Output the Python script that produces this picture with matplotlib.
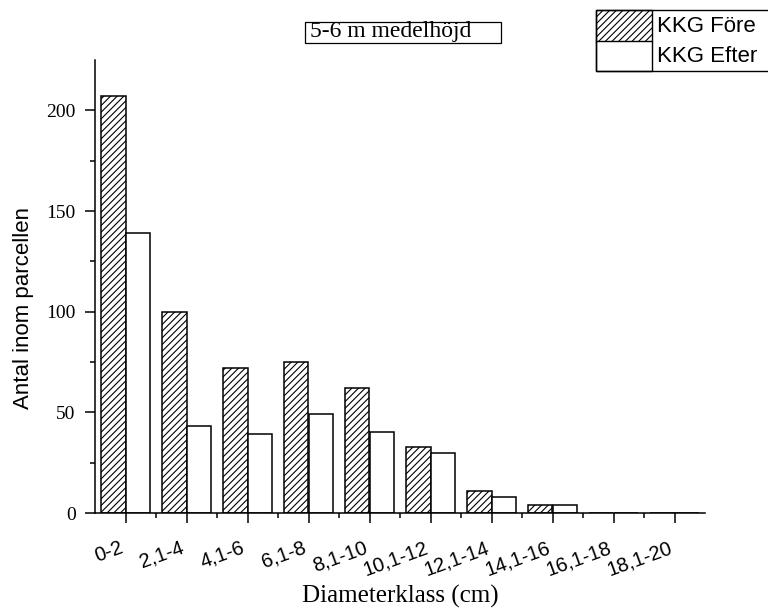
import numpy as np
import matplotlib.pyplot as plt
from matplotlib.patches import Rectangle

# data
klasser = ['0-2', '2,1-4', '4,1-6', '6,1-8', '8,1-10', '10,1-12',
           '12,1-14', '14,1-16', '16,1-18', '18,1-20']
kkg_fore = [207, 100, 72, 75, 62, 33, 11, 4, 0, 0]
kkg_efter = [139, 43, 39, 49, 40, 30, 8, 4, 0, 0]

W, H = 768, 608
SERIF = ['Liberation Serif', 'DejaVu Serif']
SANS = ['Liberation Sans', 'DejaVu Sans']

plt.rcParams['hatch.linewidth'] = 0.8

fig = plt.figure(figsize=(W / 100, H / 100), dpi=100)
ax = fig.add_axes([95 / W, 1 - 513 / H, 610 / W, 453 / H])


def px(x, y):
    # pixel (from top-left) -> figure fraction
    return x / W, 1 - y / H


x = np.arange(len(klasser))
bw = 0.4
ax.bar(x - bw / 2, kkg_fore, bw, facecolor='white', edgecolor='black',
       hatch='/////', linewidth=1.1, label='KKG Före')
ax.bar(x + bw / 2, kkg_efter, bw, facecolor='white', edgecolor='black',
       linewidth=1.1, label='KKG Efter')

ax.set_xlim(-0.5, len(klasser) - 0.5)
ax.set_ylim(0, 225)
ax.spines['top'].set_visible(False)
ax.spines['right'].set_visible(False)
for s in ['left', 'bottom']:
    ax.spines[s].set_linewidth(1.1)

ax.set_yticks([0, 50, 100, 150, 200])
ax.set_yticks(np.arange(25, 225, 50), minor=True)
ax.set_xticks(x)
ax.set_xticks(x[:-1] + 0.5, minor=True)
ax.set_xticklabels(klasser, rotation=20, ha='right', va='top',
                   family=SANS, fontsize=14.5)
ax.tick_params(axis='y', which='major', labelsize=14)
for lab in ax.get_yticklabels():
    lab.set_family(SERIF)
ax.tick_params(axis='both', which='major', direction='out', length=7,
               width=1.1)
ax.tick_params(axis='both', which='minor', direction='out', length=3.5,
               width=1.1)
ax.tick_params(axis='x', which='major', pad=11)
ax.tick_params(axis='y', which='major', pad=7)

ax.set_xlabel('Diameterklass (cm)', family=SERIF, fontsize=18)
ax.xaxis.set_label_coords(0.5, (513 - 585) / 453)
ax.set_ylabel('Antal inom parcellen', family=SANS, fontsize=16)
ax.yaxis.set_label_coords((34 - 95) / 610, (513 - 308) / 453)

# title box
x0, y0 = px(305, 43)
x1, y1 = px(501, 22)
fig.add_artist(Rectangle((x0, y0), x1 - x0, y1 - y0, transform=fig.transFigure,
                         facecolor='white', edgecolor='black', linewidth=0.9))
fig.text(*px(310, 32), '5-6 m medelhöjd', family=SERIF, fontsize=17,
         va='center', ha='left')

# legend drawn as a small table, cut off at the right edge like the original
lx0, ly_top = px(596, 10)
_, ly_mid = px(596, 41.5)
_, ly_bot = px(596, 71)
lx_div, _ = px(652, 0)
fig.add_artist(Rectangle((lx0, ly_mid), lx_div - lx0, ly_top - ly_mid,
                         transform=fig.transFigure, facecolor='white',
                         edgecolor='black', hatch='/////', linewidth=1.0))
fig.add_artist(Rectangle((lx0, ly_bot), lx_div - lx0, ly_mid - ly_bot,
                         transform=fig.transFigure, facecolor='white',
                         edgecolor='black', linewidth=1.0))
fig.add_artist(Rectangle((lx0, ly_bot), 1.2 - lx0, ly_top - ly_bot,
                         transform=fig.transFigure, facecolor='none',
                         edgecolor='black', linewidth=1.0, clip_on=False))
for lab, yy in zip(['KKG Före', 'KKG Efter'], [26, 56]):
    fig.text(*px(657, yy), lab, family=SANS, fontsize=16, va='center', ha='left')

fig.savefig('out.png', dpi=100)
